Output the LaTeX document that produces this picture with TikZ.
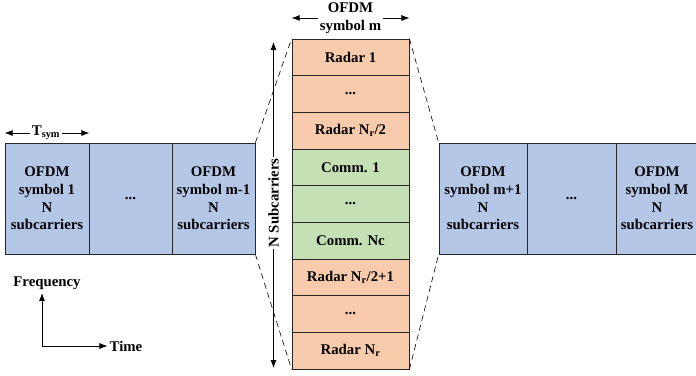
\documentclass[tikz,border=0pt]{standalone}
\usepackage{fontspec}
\setmainfont{Liberation Serif}
\usetikzlibrary{arrows.meta}
\definecolor{sblue}{HTML}{B4C7E7}
\definecolor{sorange}{HTML}{F8CBAD}
\definecolor{sgreen}{HTML}{C5E0B4}
\begin{document}
\begin{tikzpicture}[x=1pt,y=-1pt,
  txt/.style={font=\fontsize{14.8}{17.7}\selectfont\bfseries, align=center},
  bluebox/.style={txt, draw=black!85, line width=0.8pt, fill=sblue, minimum height=111pt, inner sep=0pt},
  cell/.style={txt, draw=black!85, line width=0.8pt, minimum width=117pt, minimum height=36.67pt, inner sep=0pt},
  radar/.style={cell, fill=sorange},
  comm/.style={cell, fill=sgreen},
  arr/.style={-{Latex[length=8pt,width=6pt]}, line width=0.8pt},
  dashline/.style={dash pattern=on 6pt off 4pt, line width=0.6pt}]
\useasboundingbox (0,0) rectangle (696,375);
\clip (0,0) rectangle (696,375);
% left strip
\node[bluebox, minimum width=84pt] (l1) at (47,198.5) {OFDM\\symbol 1\\N\\subcarriers};
\node[bluebox, minimum width=83pt] (l2) at (130.5,198.5) {...};
\node[bluebox, minimum width=83pt] (l3) at (213.5,198.5) {OFDM\\symbol m-1\\N\\subcarriers};
% right strip
\node[bluebox, minimum width=88pt] (r1) at (483,198.5) {OFDM\\symbol m+1\\N\\subcarriers};
\node[bluebox, minimum width=89pt] (r2) at (571.5,198.5) {...};
\node[bluebox, minimum width=82pt] (r3) at (657,198.5) {OFDM\\symbol M\\N\\subcarriers};
% center column
\node[radar] (c1) at (350.5,57.33) {Radar 1};
\node[radar] (c2) at (350.5,94.0) {...};
\node[radar] (c3) at (350.5,130.67) {Radar N\textsubscript{r}/2};
\node[comm]  (c4) at (350.5,167.33) {Comm. 1};
\node[comm]  (c5) at (350.5,204.0) {...};
\node[comm]  (c6) at (350.5,240.67) {Comm. Nc};
\node[radar] (c7) at (350.5,277.33) {Radar N\textsubscript{r}/2+1};
\node[radar] (c8) at (350.5,314.0) {...};
\node[radar] (c9) at (350.5,350.67) {Radar N\textsubscript{r}};
% dashed zoom lines
\draw[dashline] (l3.north east) -- (c1.north west);
\draw[dashline] (l3.south east) -- (c9.south west);
\draw[dashline] (c1.north east) -- (r1.north west);
\draw[dashline] (c9.south east) -- (r1.south west);
% OFDM symbol m label
\node[txt, inner sep=2pt] (mlab) at (350.5,18) {OFDM\\symbol m};
\draw[arr] (mlab.west) -- (mlab.west -| c1.west);
\draw[arr] (mlab.east) -- (mlab.east -| c1.east);
% T_sym
\node[txt, inner sep=2pt] (tsym) at (46,133) {T\textsubscript{sym}};
\draw[arr] (tsym.west) -- (tsym.west -| l1.west);
\draw[arr] (tsym.east) -- (tsym.east -| l1.east);
% N subcarriers
\node[txt, rotate=90, inner sep=1pt] (nsub) at (273.5,203) {N Subcarriers};
\coordinate (ntop) at (273.5,42);
\coordinate (nbot) at (273.5,368);
\draw[arr] (nsub.east) -- (ntop);
\draw[arr] (nsub.west) -- (nbot);
% axes
\node[txt] (freq) at (47,283) {Frequency};
\node[txt, inner sep=2pt] (time) at (126,346) {Time};
\coordinate (orig) at (42,346);
\draw[arr] (orig) -- (orig |- freq.south);
\draw[arr] (orig) -- (time.west);
\end{tikzpicture}
\end{document}
